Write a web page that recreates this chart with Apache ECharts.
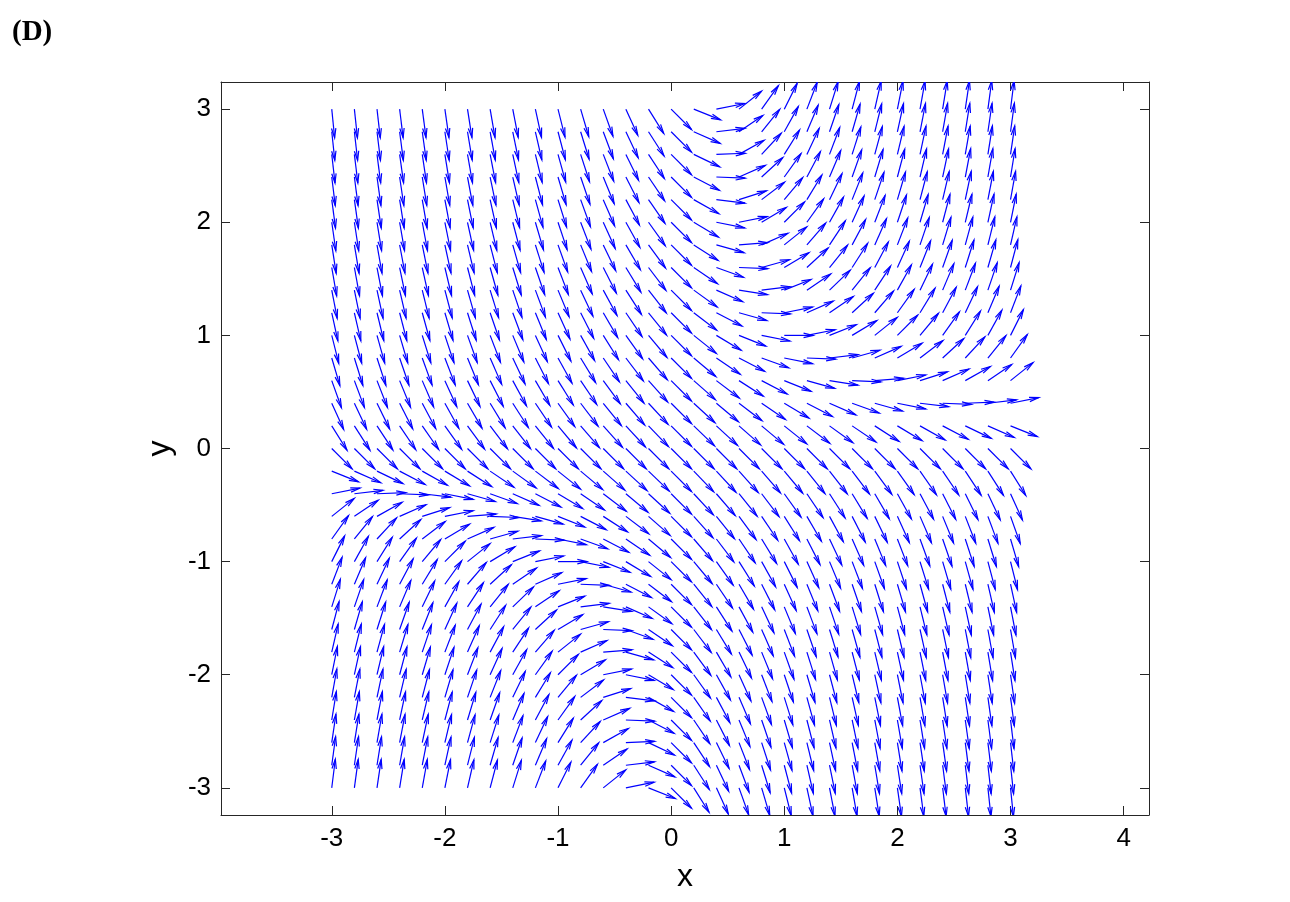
<!DOCTYPE html>
<html>
<head>
<meta charset="utf-8">
<title>(D) direction field</title>
<script src="https://cdn.jsdelivr.net/npm/echarts@6/dist/echarts.min.js"></script>
<style>
  html, body { margin: 0; padding: 0; background: #fff; }
  #chart { width: 1290px; height: 902px; }
</style>
</head>
<body>
<div id="chart"></div>
<script>
// grid points of the field
var xs = [-3, -2.8, -2.6, -2.4, -2.2, -2, -1.8, -1.6, -1.4, -1.2, -1, -0.8, -0.6, -0.4, -0.2, 0,
          0.2, 0.4, 0.6, 0.8, 1, 1.2, 1.4, 1.6, 1.8, 2, 2.2, 2.4, 2.6, 2.8, 3];
var ys = [-3, -2.8, -2.6, -2.4, -2.2, -2, -1.8, -1.6, -1.4, -1.2, -1, -0.8, -0.6, -0.4, -0.2, 0,
          0.2, 0.4, 0.6, 0.8, 1, 1.2, 1.4, 1.6, 1.8, 2, 2.2, 2.4, 2.6, 2.8, 3];

var xTicks = [-3, -2, -1, 0, 1, 2, 3, 4];
var yTicks = [-3, -2, -1, 0, 1, 2, 3];

// arrow slope dy/dx at each grid point, one row per ys value, columns follow xs
var slopes = [
  [8, 7.4, 6.8, 6.2, 5.6, 5, 4.4, 3.8, 3.2, 2.6, 2, 1.4, 0.8, 0.2, -0.4, -1, -1.6, -2.2, -2.8, -3.4, -4, -4.6, -5.2, -5.8, -6.4, -7, -7.6, -8.2, -8.8, -9.4, -10],
  [7.4, 6.84, 6.28, 5.72, 5.16, 4.6, 4.04, 3.48, 2.92, 2.36, 1.8, 1.24, 0.68, 0.12, -0.44, -1, -1.56, -2.12, -2.68, -3.24, -3.8, -4.36, -4.92, -5.48, -6.04, -6.6, -7.16, -7.72, -8.28, -8.84, -9.4],
  [6.8, 6.28, 5.76, 5.24, 4.72, 4.2, 3.68, 3.16, 2.64, 2.12, 1.6, 1.08, 0.56, 0.04, -0.48, -1, -1.52, -2.04, -2.56, -3.08, -3.6, -4.12, -4.64, -5.16, -5.68, -6.2, -6.72, -7.24, -7.76, -8.28, -8.8],
  [6.2, 5.72, 5.24, 4.76, 4.28, 3.8, 3.32, 2.84, 2.36, 1.88, 1.4, 0.92, 0.44, -0.04, -0.52, -1, -1.48, -1.96, -2.44, -2.92, -3.4, -3.88, -4.36, -4.84, -5.32, -5.8, -6.28, -6.76, -7.24, -7.72, -8.2],
  [5.6, 5.16, 4.72, 4.28, 3.84, 3.4, 2.96, 2.52, 2.08, 1.64, 1.2, 0.76, 0.32, -0.12, -0.56, -1, -1.44, -1.88, -2.32, -2.76, -3.2, -3.64, -4.08, -4.52, -4.96, -5.4, -5.84, -6.28, -6.72, -7.16, -7.6],
  [5, 4.6, 4.2, 3.8, 3.4, 3, 2.6, 2.2, 1.8, 1.4, 1, 0.6, 0.2, -0.2, -0.6, -1, -1.4, -1.8, -2.2, -2.6, -3, -3.4, -3.8, -4.2, -4.6, -5, -5.4, -5.8, -6.2, -6.6, -7],
  [4.4, 4.04, 3.68, 3.32, 2.96, 2.6, 2.24, 1.88, 1.52, 1.16, 0.8, 0.44, 0.08, -0.28, -0.64, -1, -1.36, -1.72, -2.08, -2.44, -2.8, -3.16, -3.52, -3.88, -4.24, -4.6, -4.96, -5.32, -5.68, -6.04, -6.4],
  [3.8, 3.48, 3.16, 2.84, 2.52, 2.2, 1.88, 1.56, 1.24, 0.92, 0.6, 0.28, -0.04, -0.36, -0.68, -1, -1.32, -1.64, -1.96, -2.28, -2.6, -2.92, -3.24, -3.56, -3.88, -4.2, -4.52, -4.84, -5.16, -5.48, -5.8],
  [3.2, 2.92, 2.64, 2.36, 2.08, 1.8, 1.52, 1.24, 0.96, 0.68, 0.4, 0.12, -0.16, -0.44, -0.72, -1, -1.28, -1.56, -1.84, -2.12, -2.4, -2.68, -2.96, -3.24, -3.52, -3.8, -4.08, -4.36, -4.64, -4.92, -5.2],
  [2.6, 2.36, 2.12, 1.88, 1.64, 1.4, 1.16, 0.92, 0.68, 0.44, 0.2, -0.04, -0.28, -0.52, -0.76, -1, -1.24, -1.48, -1.72, -1.96, -2.2, -2.44, -2.68, -2.92, -3.16, -3.4, -3.64, -3.88, -4.12, -4.36, -4.6],
  [2, 1.8, 1.6, 1.4, 1.2, 1, 0.8, 0.6, 0.4, 0.2, 0, -0.2, -0.4, -0.6, -0.8, -1, -1.2, -1.4, -1.6, -1.8, -2, -2.2, -2.4, -2.6, -2.8, -3, -3.2, -3.4, -3.6, -3.8, -4],
  [1.4, 1.24, 1.08, 0.92, 0.76, 0.6, 0.44, 0.28, 0.12, -0.04, -0.2, -0.36, -0.52, -0.68, -0.84, -1, -1.16, -1.32, -1.48, -1.64, -1.8, -1.96, -2.12, -2.28, -2.44, -2.6, -2.76, -2.92, -3.08, -3.24, -3.4],
  [0.8, 0.68, 0.56, 0.44, 0.32, 0.2, 0.08, -0.04, -0.16, -0.28, -0.4, -0.52, -0.64, -0.76, -0.88, -1, -1.12, -1.24, -1.36, -1.48, -1.6, -1.72, -1.84, -1.96, -2.08, -2.2, -2.32, -2.44, -2.56, -2.68, -2.8],
  [0.2, 0.12, 0.04, -0.04, -0.12, -0.2, -0.28, -0.36, -0.44, -0.52, -0.6, -0.68, -0.76, -0.84, -0.92, -1, -1.08, -1.16, -1.24, -1.32, -1.4, -1.48, -1.56, -1.64, -1.72, -1.8, -1.88, -1.96, -2.04, -2.12, -2.2],
  [-0.4, -0.44, -0.48, -0.52, -0.56, -0.6, -0.64, -0.68, -0.72, -0.76, -0.8, -0.84, -0.88, -0.92, -0.96, -1, -1.04, -1.08, -1.12, -1.16, -1.2, -1.24, -1.28, -1.32, -1.36, -1.4, -1.44, -1.48, -1.52, -1.56, -1.6],
  [-1, -1, -1, -1, -1, -1, -1, -1, -1, -1, -1, -1, -1, -1, -1, -1, -1, -1, -1, -1, -1, -1, -1, -1, -1, -1, -1, -1, -1, -1, -1],
  [-1.6, -1.56, -1.52, -1.48, -1.44, -1.4, -1.36, -1.32, -1.28, -1.24, -1.2, -1.16, -1.12, -1.08, -1.04, -1, -0.96, -0.92, -0.88, -0.84, -0.8, -0.76, -0.72, -0.68, -0.64, -0.6, -0.56, -0.52, -0.48, -0.44, -0.4],
  [-2.2, -2.12, -2.04, -1.96, -1.88, -1.8, -1.72, -1.64, -1.56, -1.48, -1.4, -1.32, -1.24, -1.16, -1.08, -1, -0.92, -0.84, -0.76, -0.68, -0.6, -0.52, -0.44, -0.36, -0.28, -0.2, -0.12, -0.04, 0.04, 0.12, 0.2],
  [-2.8, -2.68, -2.56, -2.44, -2.32, -2.2, -2.08, -1.96, -1.84, -1.72, -1.6, -1.48, -1.36, -1.24, -1.12, -1, -0.88, -0.76, -0.64, -0.52, -0.4, -0.28, -0.16, -0.04, 0.08, 0.2, 0.32, 0.44, 0.56, 0.68, 0.8],
  [-3.4, -3.24, -3.08, -2.92, -2.76, -2.6, -2.44, -2.28, -2.12, -1.96, -1.8, -1.64, -1.48, -1.32, -1.16, -1, -0.84, -0.68, -0.52, -0.36, -0.2, -0.04, 0.12, 0.28, 0.44, 0.6, 0.76, 0.92, 1.08, 1.24, 1.4],
  [-4, -3.8, -3.6, -3.4, -3.2, -3, -2.8, -2.6, -2.4, -2.2, -2, -1.8, -1.6, -1.4, -1.2, -1, -0.8, -0.6, -0.4, -0.2, 0, 0.2, 0.4, 0.6, 0.8, 1, 1.2, 1.4, 1.6, 1.8, 2],
  [-4.6, -4.36, -4.12, -3.88, -3.64, -3.4, -3.16, -2.92, -2.68, -2.44, -2.2, -1.96, -1.72, -1.48, -1.24, -1, -0.76, -0.52, -0.28, -0.04, 0.2, 0.44, 0.68, 0.92, 1.16, 1.4, 1.64, 1.88, 2.12, 2.36, 2.6],
  [-5.2, -4.92, -4.64, -4.36, -4.08, -3.8, -3.52, -3.24, -2.96, -2.68, -2.4, -2.12, -1.84, -1.56, -1.28, -1, -0.72, -0.44, -0.16, 0.12, 0.4, 0.68, 0.96, 1.24, 1.52, 1.8, 2.08, 2.36, 2.64, 2.92, 3.2],
  [-5.8, -5.48, -5.16, -4.84, -4.52, -4.2, -3.88, -3.56, -3.24, -2.92, -2.6, -2.28, -1.96, -1.64, -1.32, -1, -0.68, -0.36, -0.04, 0.28, 0.6, 0.92, 1.24, 1.56, 1.88, 2.2, 2.52, 2.84, 3.16, 3.48, 3.8],
  [-6.4, -6.04, -5.68, -5.32, -4.96, -4.6, -4.24, -3.88, -3.52, -3.16, -2.8, -2.44, -2.08, -1.72, -1.36, -1, -0.64, -0.28, 0.08, 0.44, 0.8, 1.16, 1.52, 1.88, 2.24, 2.6, 2.96, 3.32, 3.68, 4.04, 4.4],
  [-7, -6.6, -6.2, -5.8, -5.4, -5, -4.6, -4.2, -3.8, -3.4, -3, -2.6, -2.2, -1.8, -1.4, -1, -0.6, -0.2, 0.2, 0.6, 1, 1.4, 1.8, 2.2, 2.6, 3, 3.4, 3.8, 4.2, 4.6, 5],
  [-7.6, -7.16, -6.72, -6.28, -5.84, -5.4, -4.96, -4.52, -4.08, -3.64, -3.2, -2.76, -2.32, -1.88, -1.44, -1, -0.56, -0.12, 0.32, 0.76, 1.2, 1.64, 2.08, 2.52, 2.96, 3.4, 3.84, 4.28, 4.72, 5.16, 5.6],
  [-8.2, -7.72, -7.24, -6.76, -6.28, -5.8, -5.32, -4.84, -4.36, -3.88, -3.4, -2.92, -2.44, -1.96, -1.48, -1, -0.52, -0.04, 0.44, 0.92, 1.4, 1.88, 2.36, 2.84, 3.32, 3.8, 4.28, 4.76, 5.24, 5.72, 6.2],
  [-8.8, -8.28, -7.76, -7.24, -6.72, -6.2, -5.68, -5.16, -4.64, -4.12, -3.6, -3.08, -2.56, -2.04, -1.52, -1, -0.48, 0.04, 0.56, 1.08, 1.6, 2.12, 2.64, 3.16, 3.68, 4.2, 4.72, 5.24, 5.76, 6.28, 6.8],
  [-9.4, -8.84, -8.28, -7.72, -7.16, -6.6, -6.04, -5.48, -4.92, -4.36, -3.8, -3.24, -2.68, -2.12, -1.56, -1, -0.44, 0.12, 0.68, 1.24, 1.8, 2.36, 2.92, 3.48, 4.04, 4.6, 5.16, 5.72, 6.28, 6.84, 7.4],
  [-10, -9.4, -8.8, -8.2, -7.6, -7, -6.4, -5.8, -5.2, -4.6, -4, -3.4, -2.8, -2.2, -1.6, -1, -0.4, 0.2, 0.8, 1.4, 2, 2.6, 3.2, 3.8, 4.4, 5, 5.6, 6.2, 6.8, 7.4, 8]
];

var points = [];
for (var j = 0; j < ys.length; j++) {
  for (var i = 0; i < xs.length; i++) {
    points.push([xs[i], ys[j], slopes[j][i]]);
  }
}

var arrowLen = 0.2546;   // every arrow gets the same length (data units)
var headA = 0.33, headB = 0.23;
var blue = '#0000ff';
var axisColor = '#262626';
var font = 'Liberation Sans, Arial, Helvetica, sans-serif';

function renderArrow(params, api) {
  var x = api.value(0), y = api.value(1), s = api.value(2);
  var n = Math.sqrt(1 + s * s);
  var u = arrowLen / n, v = arrowLen * s / n;
  var tx = x + u, ty = y + v;
  var p0 = api.coord([x, y]);
  var p1 = api.coord([tx, ty]);
  var h1 = api.coord([tx - headA * (u + headB * v), ty - headA * (v - headB * u)]);
  var h2 = api.coord([tx - headA * (u - headB * v), ty - headA * (v + headB * u)]);
  return {
    type: 'group',
    children: [
      { type: 'line', shape: { x1: p0[0], y1: p0[1], x2: p1[0], y2: p1[1] },
        style: { stroke: blue, lineWidth: 1.2 } },
      { type: 'polyline', shape: { points: [h1, p1, h2] },
        style: { stroke: blue, fill: null, lineWidth: 1.2 } }
    ]
  };
}

var xMin = -3.979, xMax = 4.224, yMin = -3.24, yMax = 3.24;

function boxAxis(pos, isX, show) {
  return {
    type: 'value',
    position: pos,
    min: isX ? xMin : yMin,
    max: isX ? xMax : yMax,
    axisLine: { show: true, onZero: false, lineStyle: { color: axisColor, width: 1 } },
    axisTick: { show: true, inside: true, length: 9,
                customValues: isX ? xTicks : yTicks,
                lineStyle: { color: axisColor, width: 1 } },
    axisLabel: { show: show, customValues: isX ? xTicks : yTicks,
                 color: '#000', fontSize: 26, fontFamily: font, margin: isX ? 11 : 10 },
    splitLine: { show: false }
  };
}

var xBottom = boxAxis('bottom', true, true);
xBottom.name = 'x';
xBottom.nameLocation = 'middle';
xBottom.nameGap = 46;
xBottom.nameTextStyle = { color: '#000', fontSize: 32, fontFamily: font };

var yLeft = boxAxis('left', false, true);
yLeft.name = 'y';
yLeft.nameLocation = 'middle';
yLeft.nameGap = 45;
yLeft.nameRotate = 90;
yLeft.nameTextStyle = { color: '#000', fontSize: 32, fontFamily: font };

var chart = echarts.init(document.getElementById('chart'));
chart.setOption({
  animation: false,
  backgroundColor: '#fff',
  grid: { left: 221, top: 82, width: 928, height: 733, containLabel: false },
  graphic: [{
    type: 'text', left: 12, top: 18,
    style: { text: '(D)', fill: '#000', font: 'bold 29px "Liberation Serif", "Times New Roman", serif' }
  }],
  xAxis: [xBottom, boxAxis('top', true, false)],
  yAxis: [yLeft, boxAxis('right', false, false)],
  series: [{
    type: 'custom',
    coordinateSystem: 'cartesian2d',
    xAxisIndex: 0,
    yAxisIndex: 0,
    clip: true,
    silent: true,
    renderItem: renderArrow,
    data: points
  }]
});
</script>
</body>
</html>
